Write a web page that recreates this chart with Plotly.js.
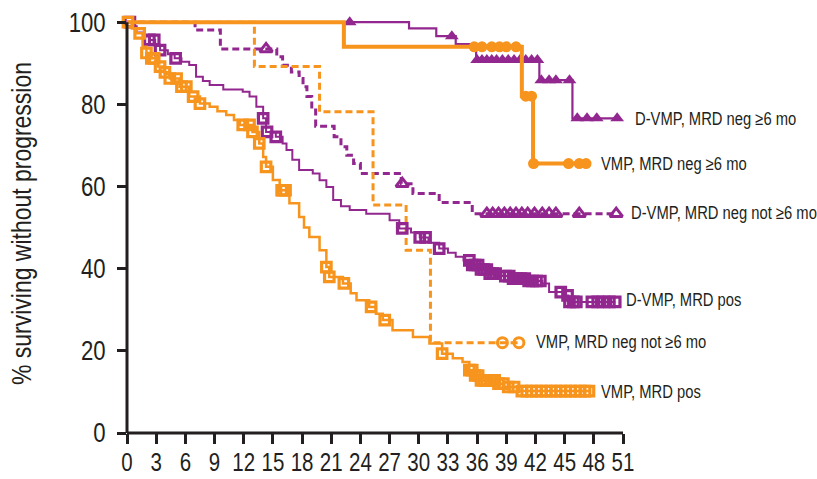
<!DOCTYPE html>
<html>
<head>
<meta charset="utf-8">
<script src="https://cdn.plot.ly/plotly-3.0.1.min.js"></script>
<style>
  html, body { margin: 0; padding: 0; background: #ffffff; }
  #chart { width: 817px; height: 479px; }
</style>
</head>
<body>
<div id="chart"></div>
<script>
// Progression-free survival by MRD status (months), step curves + censor ticks.

// D-VMP, MRD negative for >= 6 months
const dvmpNeg6Months = [0, 29.0, 31.8, 33.8, 35.9, 42.4, 45.8, 50.4];
const dvmpNeg6Surv   = [100, 98.5, 96.6, 94.7, 90.8, 85.9, 76.6, 76.6];
const dvmpNeg6Censor = [22.9, 33.4, 36.0, 36.5, 37.0, 37.5, 38.0, 38.6, 39.2, 39.8, 40.4, 41.0, 41.6, 42.2,
                        42.6, 43.4, 44.1, 45.5, 46.3, 47.3, 48.3, 50.4];

// VMP, MRD negative for >= 6 months
const vmpNeg6Months = [0, 22.3, 40.6, 41.75, 47.2];
const vmpNeg6Surv   = [100, 94.0, 82.0, 65.6, 65.6];
const vmpNeg6Censor = [35.7, 36.5, 37.5, 38.3, 39.0, 40.0, 41.0, 41.6, 41.8, 45.4, 46.5, 47.2];

// D-VMP, MRD negative but not for >= 6 months
const dvmpNegNotMonths = [0, 7.0, 9.6, 15.4, 16.0, 16.9, 17.7, 18.1, 18.5, 19.0, 19.4, 21.3, 22.0, 22.6, 23.3,
                          24.0, 28.2, 29.4, 32.1, 35.5, 50.3];
const dvmpNegNotSurv   = [100, 98.1, 93.5, 91.6, 89.5, 87.9, 86.3, 84.3, 81.9, 78.6, 74.7, 72.1, 69.7, 67.6, 65.6,
                          63.2, 60.7, 58.3, 56.1, 53.4, 53.4];
const dvmpNegNotCensor = [14.3, 28.3, 37.0, 37.6, 38.2, 38.8, 39.4, 40.0, 40.6, 41.2, 41.9, 42.7, 43.4, 44.1, 46.5, 50.3];

// VMP, MRD negative but not for >= 6 months
const vmpNegNotMonths = [0, 13.1, 19.8, 25.3, 28.7, 31.2, 40.3];
const vmpNegNotSurv   = [100, 89.2, 78.2, 55.5, 44.5, 22.0, 22.0];
const vmpNegNotCensor = [38.6, 40.3];

// D-VMP, MRD positive
const dvmpPosMonths = [0, 0.5, 1.0, 1.8, 2.3, 2.9, 3.4, 4.2, 4.9, 5.6, 6.4, 7.1, 7.8, 8.5, 9.9, 11.9, 12.6, 13.3,
                       14.0, 14.3, 15.3, 16.0, 16.4, 17.0, 17.7, 19.1, 19.8, 20.5, 21.2, 22.0, 22.9, 24.6, 27.0,
                       28.0, 29.2, 30.1, 31.0, 32.1, 33.0, 33.8, 34.6, 35.5, 36.3, 37.2, 38.5, 39.6, 41.0, 42.7,
                       43.4, 44.8, 45.4, 50.2];
const dvmpPosSurv   = [100, 99.0, 97.5, 96.5, 95.7, 94.5, 93.2, 92.2, 91.2, 90.4, 89.6, 86.7, 85.7, 84.7, 83.6, 83.1,
                       81.9, 79.4, 76.6, 73.3, 72.1, 70.5, 68.9, 66.5, 64.0, 63.2, 61.5, 59.9, 56.7, 55.2, 54.3,
                       53.4, 51.8, 49.8, 48.8, 47.6, 46.3, 44.9, 43.9, 42.9, 42.0, 40.9, 39.8, 38.8, 38.2, 37.6,
                       37.0, 36.4, 34.3, 33.5, 31.9, 31.9];
const dvmpPosCensor = [0.3, 2.3, 2.8, 3.4, 5.0, 14.0, 14.4, 15.3, 28.3, 30.1, 30.7, 32.1, 35.2, 35.5, 35.8, 36.1,
                       36.4, 36.7, 37.0, 37.3, 37.6, 37.9, 38.9, 39.3, 39.7, 40.1, 40.5, 40.9, 41.3, 41.7, 42.1,
                       42.5, 44.6, 45.3, 45.5, 45.9, 46.2, 47.8, 48.4, 49.0, 49.6, 50.2];

// VMP, MRD positive
const vmpPosMonths = [0, 0.5, 1.0, 1.6, 2.0, 2.5, 3.2, 3.8, 4.4, 5.4, 6.4, 7.5, 8.5, 9.3, 10.2, 11.0, 11.6, 12.9,
                      13.6, 14.0, 14.3, 15.0, 15.7, 16.7, 17.7, 18.2, 18.75, 19.8, 20.5, 20.8, 22.2, 23.0, 23.6,
                      24.9, 25.6, 26.3, 27.3, 29.4, 31.1, 32.4, 33.5, 34.5, 35.2, 35.7, 36.2, 37.9, 38.8, 40.3, 47.5];
const vmpPosSurv   = [100, 98.5, 97.3, 94.0, 92.5, 91.2, 89.2, 87.8, 86.3, 84.3, 81.9, 80.2, 79.4, 78.3, 77.4,
                      76.2, 75.0, 73.3, 70.5, 67.2, 64.8, 61.6, 59.1, 55.9, 52.6, 50.0, 47.7, 44.5, 40.4, 38.0,
                      36.4, 34.0, 32.3, 30.7, 29.0, 27.5, 25.0, 23.4, 21.8, 19.3, 18.2, 17.3, 15.3, 14.0, 12.8,
                      12.0, 11.2, 10.2, 10.2];
const vmpPosCensor = [0.1, 1.3, 2.0, 2.5, 2.8, 3.4, 3.9, 4.4, 5.1, 5.6, 6.1, 6.8, 7.5, 11.9, 12.6, 12.9, 13.6,
                      14.3, 15.9, 16.0, 16.3, 20.5, 20.8, 22.3, 25.1, 26.5, 32.4, 35.2, 35.5, 35.8, 36.1, 36.4,
                      36.7, 37.0, 37.4, 37.8, 38.2, 38.7, 39.2, 39.8, 40.6, 41.1, 41.6, 42.1, 42.6, 43.1, 43.6,
                      44.1, 44.6, 45.1, 45.6, 46.1, 46.6, 47.1, 47.5];

const seriesNames = [
  'D-VMP, MRD neg ≥6 mo',
  'VMP, MRD neg ≥6 mo',
  'D-VMP, MRD neg not ≥6 mo',
  'D-VMP, MRD pos',
  'VMP, MRD neg not ≥6 mo',
  'VMP, MRD pos'
];

const xTickVals = [0, 3, 6, 9, 12, 15, 18, 21, 24, 27, 30, 33, 36, 39, 42, 45, 48, 51];
const yTickVals = [0, 20, 40, 60, 80, 100];

const ORANGE = '#F7941D';
const PURPLE = '#92278F';
const INK = '#231F20';
const FONT = '"Liberation Sans Narrow", "Liberation Sans", Arial, sans-serif';
const NARROW = 0.82;   // horizontal squeeze giving a condensed face

// survival value of a step curve at time t
function stepAt(times, values, t) {
  let v = values[0];
  for (let i = 0; i < times.length; i++) {
    if (times[i] <= t) v = values[i]; else break;
  }
  return v;
}

function curve(times, values, color, width, dash) {
  return {
    type: 'scatter', mode: 'lines', x: times, y: values,
    line: { color: color, width: width, shape: 'hv', dash: dash || 'solid' },
    hoverinfo: 'skip', showlegend: false
  };
}

function censor(times, values, marks, color, symbol, size, lineWidth) {
  return {
    type: 'scatter', mode: 'markers', x: marks,
    y: marks.map(t => stepAt(times, values, t)),
    marker: { color: color, symbol: symbol, size: size, line: { color: color, width: lineWidth } },
    hoverinfo: 'skip', showlegend: false, cliponaxis: false
  };
}

const traces = [
  curve(dvmpNegNotMonths, dvmpNegNotSurv, PURPLE, 3, '7px,4px'),
  censor(dvmpNegNotMonths, dvmpNegNotSurv, dvmpNegNotCensor, PURPLE, 'triangle-up-open', 11, 3),
  curve(vmpNegNotMonths, vmpNegNotSurv, ORANGE, 3, '7px,4px'),
  censor(vmpNegNotMonths, vmpNegNotSurv, vmpNegNotCensor, ORANGE, 'circle-open', 10, 3),
  curve(dvmpPosMonths, dvmpPosSurv, PURPLE, 2, 'solid'),
  censor(dvmpPosMonths, dvmpPosSurv, dvmpPosCensor, PURPLE, 'square-open', 9.5, 3.2),
  curve(vmpPosMonths, vmpPosSurv, ORANGE, 2.5, 'solid'),
  censor(vmpPosMonths, vmpPosSurv, vmpPosCensor, ORANGE, 'square-open', 9.5, 3.2),
  curve(dvmpNeg6Months, dvmpNeg6Surv, PURPLE, 2.2, 'solid'),
  censor(dvmpNeg6Months, dvmpNeg6Surv, dvmpNeg6Censor, PURPLE, 'triangle-up', 12, 0),
  curve(vmpNeg6Months, vmpNeg6Surv, ORANGE, 4, 'solid'),
  censor(vmpNeg6Months, vmpNeg6Surv, vmpNeg6Censor, ORANGE, 'circle', 11, 0)
];

const X_MAX = 51;
const Y_TOP = 102;

// end-of-curve labels: [x (months), y (%)], placed in paper units so they may sit past the axis end
const labelAnchors = [[52.0, 76.4], [48.5, 65.6], [51.6, 53.5], [51.1, 32.3], [41.9, 22.1], [48.5, 9.9]];
const annotations = seriesNames.map((name, i) => ({
  text: name, x: labelAnchors[i][0] / X_MAX, y: labelAnchors[i][1] / Y_TOP, xref: 'paper', yref: 'paper',
  xanchor: 'left', yanchor: 'middle', align: 'left', showarrow: false,
  font: { family: FONT, size: 18, color: INK }
}));

const layout = {
  width: 817, height: 479,
  margin: { l: 127, r: 194, t: 14, b: 46 },
  paper_bgcolor: '#ffffff', plot_bgcolor: '#ffffff',
  showlegend: false,
  font: { family: FONT, color: INK },
  xaxis: {
    range: [0, X_MAX], tickmode: 'array', tickvals: xTickVals, ticktext: xTickVals.map(String),
    tickangle: 0, ticks: 'outside', ticklen: 10, tickwidth: 3, tickcolor: INK, ticklabelstandoff: -3,
    showgrid: false, zeroline: false, showline: false,
    tickfont: { family: FONT, size: 25, color: INK }, fixedrange: true
  },
  yaxis: {
    range: [0, Y_TOP], tickmode: 'array', tickvals: yTickVals, ticktext: yTickVals.map(String),
    ticks: 'outside', ticklen: 9, tickwidth: 3, tickcolor: INK, ticklabelstandoff: 6,
    showgrid: false, zeroline: false, showline: false,
    tickfont: { family: FONT, size: 27, color: INK },
    title: { text: '% surviving without progression', font: { family: FONT, size: 28, color: INK }, standoff: 20 },
    automargin: false, fixedrange: true
  },
  shapes: [
    { type: 'line', xref: 'paper', yref: 'paper', x0: 0, x1: 0, y0: 0, y1: 100 / Y_TOP,
      line: { color: INK, width: 3 } },
    { type: 'line', xref: 'paper', yref: 'paper', x0: 0, x1: 1, y0: 0, y1: 0,
      line: { color: INK, width: 3 } }
  ],
  annotations: annotations
};

Plotly.newPlot('chart', traces, layout, { displayModeBar: false, staticPlot: true }).then(gd => {
  // squeeze every text run horizontally for a condensed look
  gd.querySelectorAll('text').forEach(t => {
    const len = t.getComputedTextLength();
    if (!len) return;
    t.setAttribute('textLength', (len * NARROW).toFixed(2));
    t.setAttribute('lengthAdjust', 'spacingAndGlyphs');
    // shrink the label box to the squeezed text
    const grp = t.closest('.annotation-text-g');
    if (grp) {
      const bg = grp.querySelector('rect.bg');
      if (bg) {
        const w = parseFloat(bg.getAttribute('width')) || 0;
        bg.setAttribute('width', Math.max(0, w - len * (1 - NARROW)).toFixed(2));
      }
    }
  });
});
</script>
</body>
</html>
